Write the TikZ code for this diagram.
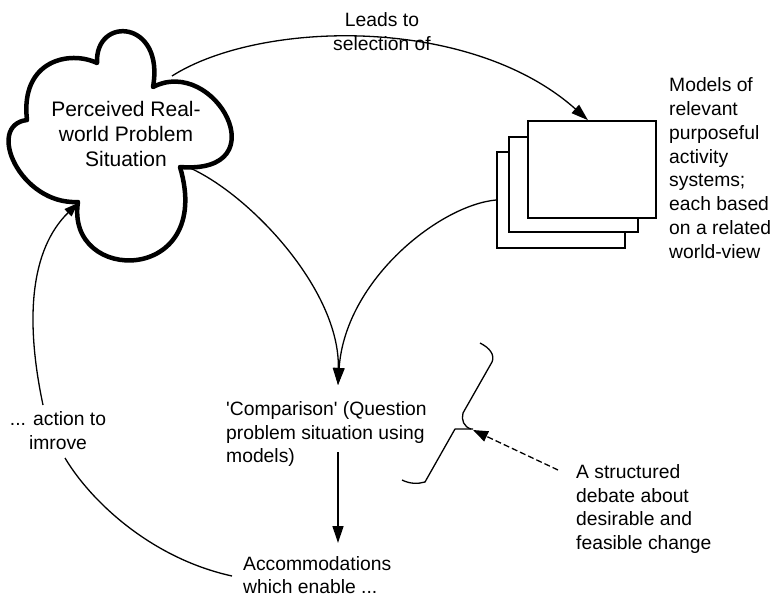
\documentclass[tikz,border=0pt]{standalone}
\usepackage{fontspec}
\newfontfamily\arialf{Liberation Sans}
\usetikzlibrary{arrows.meta}
\begin{document}
\begin{tikzpicture}[x=1pt,y=-1pt,
  ln/.style={line width=1.3pt},
  cloudline/.style={line width=4.5pt, line join=round},
  box/.style={draw, fill=white, line width=1.6pt, inner sep=0pt},
  lbl/.style={font=\arialf\fontsize{19.3}{23.8}\selectfont, inner sep=0pt},
  arr/.style={-{Triangle[length=17pt,width=11pt]}}]
\useasboundingbox (0,0) rectangle (774,597);

% cloud
\draw[cloudline] (27,120) .. controls (20,60) and (70,50) .. (97,63)
  .. controls (95,15) and (165,20) .. (153,87)
  .. controls (215,55) and (280,175) .. (180,167)
  .. controls (215,285) and (65,285) .. (78,202)
  .. controls (20,205) and (-15,125) .. cycle;
\node[lbl, font=\arialf\fontsize{21}{25}\selectfont, align=center] (cloud) at (126,134) {Perceived Real-\\world Problem\\Situation};

% stacked boxes
\node[box, minimum width=128pt, minimum height=96pt] (b3) at (561,200) {};
\node[box, minimum width=129pt, minimum height=95pt] (b2) at (573.5,184.5) {};
\node[box, minimum width=128pt, minimum height=97pt] (b1) at (592,169.5) {};

% texts
\node[lbl, align=left, anchor=west] (models) at (669,168) {Models of\\relevant\\purposeful\\activity\\systems;\\each based\\on a related\\world-view};
\node[lbl, align=center] (leads) at (382,31.5) {Leads to\\selection of};
\node[lbl, align=left, anchor=west] (cmp) at (226,434) {'Comparison' (Question\\problem situation using\\models)};
\node[lbl, align=left, anchor=west] (acc) at (243,575) {Accommodations\\which enable ...};
\node[lbl, align=center] (act) at (58,430.5) {... action to\\imrove};
\node[lbl, align=left, anchor=west] (deb) at (576,509) {A structured\\debate about\\desirable and\\feasible change};

% connector end points
\coordinate (cuspA) at (172,76);
\coordinate (cuspB) at (190,168);
\coordinate (cuspC) at (78,203);
\coordinate (cmpin) at (338,385);
\coordinate (cmpout) at (338,452);
\coordinate (accin) at (338,543);
\coordinate (accl) at (232,576);
\coordinate (actb) at (65,458);
\coordinate (actt) at (43,405);
\coordinate (brace) at (473,430);
\coordinate (debl) at (558,470);

% connectors
\draw[ln, arr] (cuspA) .. controls (260,20) and (470,15) .. ([xshift=-4pt]b1.north);
\draw[ln, arr] (b3.west) .. controls (440,205) and (345,280) .. (cmpin);
\draw[ln, arr] (cuspB) .. controls (250,195) and (340,290) .. (cmpin);
\draw[ln, arr] (cmpout) -- (accin);
\draw[ln] (accl) .. controls (150,558) and (90,500) .. (actb);
\draw[ln, -{Triangle[length=14pt,width=10pt]}] (actt) .. controls (25,320) and (30,250) .. (cuspC);

% debate bracket
\draw[ln, line join=round] (480,343) .. controls (490,348) and (495,355) .. (492,362) -- (463,413) .. controls (461,420) and (464,427) .. (471,429);
\draw[ln, line join=round] (402,480) .. controls (410,484) and (418,484) .. (425,482) -- (455,429) -- (473,429);
\draw[ln, dash pattern=on 6pt off 3pt, -{Triangle[length=15pt,width=11pt]}] (debl) -- (brace);
\end{tikzpicture}
\end{document}
